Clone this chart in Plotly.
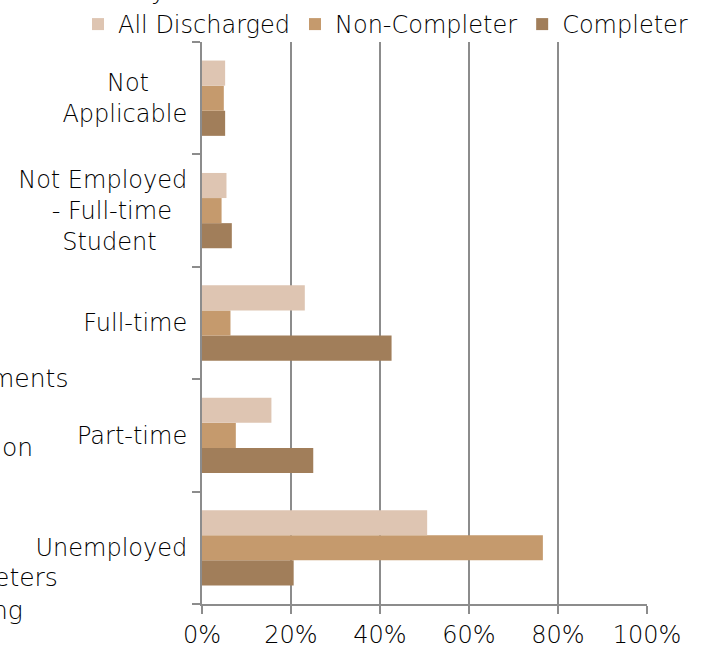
import plotly.graph_objects as go

NB = "\u00a0"
categories = ["Unemployed", "Part-time", "Full-time",
              "Not Employed<br>- Full-time" + NB * 2 + "<br>Student" + NB * 4,
              "Not" + NB * 5 + "<br>Applicable"]
all_discharged = [0.506, 0.156, 0.231, 0.055, 0.052]
non_completer = [0.766, 0.076, 0.064, 0.044, 0.049]
completer = [0.206, 0.250, 0.426, 0.067, 0.052]

series_names = ["Completer", "Non-Completer", "All Discharged"]
series_values = [completer, non_completer, all_discharged]
series_colors = ["#A17E5A", "#C59A6D", "#DEC5B2"]

FONT = "DejaVu Sans"
W, H = 703, 652
L, T, PW, PH = 202, 42, 445, 562
fig = go.Figure()
for name, vals, col in zip(series_names, series_values, series_colors):
    fig.add_trace(go.Bar(y=categories, x=vals, name=name, orientation="h",
                         marker=dict(color=col, line=dict(width=0))))

def px(x):  # page pixel x -> paper
    return (x - L) / PW

def py(y):  # page pixel y -> paper
    return 1 - (y - T) / PH

fig.update_layout(
    width=W, height=H,
    margin=dict(l=L, r=W - L - PW, t=T, b=H - T - PH, autoexpand=False),
    barmode="group", bargap=0.33, bargroupgap=0,
    plot_bgcolor="white", paper_bgcolor="white",
    font=dict(family=FONT, size=24, color="#000", weight=200),
    legend=dict(orientation="h", traceorder="reversed", x=px(78),
                xanchor="left", y=py(2), yanchor="top",
                font=dict(size=24, weight=200),
                itemwidth=30, tracegroupgap=0, bgcolor="rgba(0,0,0,0)"),
    showlegend=True,
)
fig.update_xaxes(range=[0, 1], tickvals=[0, 0.2, 0.4, 0.6, 0.8, 1.0],
                 ticktext=["0%", "20%", "40%", "60%", "80%", "100%"],
                 showgrid=True, gridcolor="#8c8c8c", gridwidth=2,
                 showline=True, linecolor="#8c8c8c", linewidth=2,
                 ticks="outside", ticklen=8, tickcolor="#8c8c8c", tickwidth=2,
                 zeroline=False, tickfont=dict(size=24, weight=200))
fig.update_yaxes(showline=True, linecolor="#8c8c8c", linewidth=2,
                 ticks="outside", ticklen=8, tickcolor="#8c8c8c", tickwidth=2,
                 tickson="boundaries", showgrid=False, ticklabelstandoff=8,
                 tickfont=dict(size=24, weight=200))

# cropped fragments of surrounding text
frags = [("ments", 70, 378), ("on", 35, 447), ("eters", 60, 577), ("ng", 25, 610)]
for t, xr, yc in frags:
    fig.add_annotation(text=t, x=px(xr), xref="paper", xanchor="right",
                       y=py(yc), yref="paper", yanchor="middle",
                       showarrow=False, font=dict(size=25, color="#000", weight=200))
fig.add_annotation(text="y", x=px(168), xref="paper", xanchor="right",
                   y=py(7), yref="paper", yanchor="bottom",
                   showarrow=False, font=dict(size=25, color="#000", weight=200))

fig.write_html("out.html", config={"displayModeBar": False},
               post_script="document.body.style.margin='0';")
